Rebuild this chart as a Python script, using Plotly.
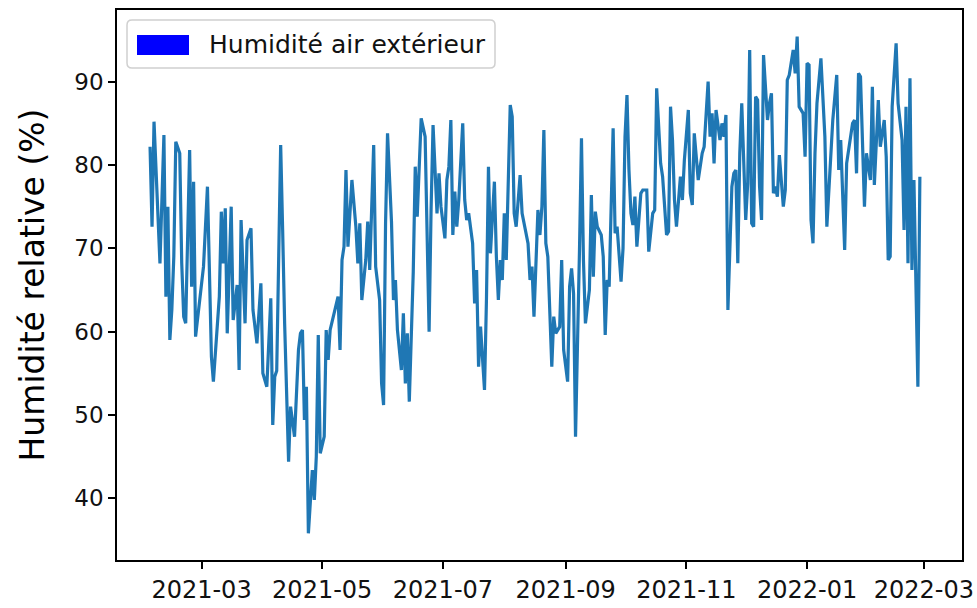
import plotly.graph_objects as go

# Outdoor relative humidity (local peaks / troughs)
dates = [
    "2021-02-03", "2021-02-04", "2021-02-05", "2021-02-08", "2021-02-10", "2021-02-11",
    "2021-02-12", "2021-02-13", "2021-02-14", "2021-02-15", "2021-02-16", "2021-02-18",
    "2021-02-19", "2021-02-20", "2021-02-21", "2021-02-23", "2021-02-24", "2021-02-25",
    "2021-02-26", "2021-02-28", "2021-03-02", "2021-03-04", "2021-03-06", "2021-03-07",
    "2021-03-09", "2021-03-10", "2021-03-11", "2021-03-12", "2021-03-13", "2021-03-14",
    "2021-03-16", "2021-03-17", "2021-03-19", "2021-03-20", "2021-03-21", "2021-03-23",
    "2021-03-24", "2021-03-26", "2021-03-27", "2021-03-29", "2021-03-31", "2021-04-01",
    "2021-04-03", "2021-04-05", "2021-04-06", "2021-04-07", "2021-04-08", "2021-04-10",
    "2021-04-11", "2021-04-12", "2021-04-14", "2021-04-15", "2021-04-17", "2021-04-18",
    "2021-04-19", "2021-04-20", "2021-04-21", "2021-04-22", "2021-04-23", "2021-04-24",
    "2021-04-26", "2021-04-27", "2021-04-28", "2021-04-29", "2021-04-30", "2021-05-02",
    "2021-05-03", "2021-05-04", "2021-05-05", "2021-05-09", "2021-05-10", "2021-05-11",
    "2021-05-12", "2021-05-13", "2021-05-14", "2021-05-16", "2021-05-18", "2021-05-19",
    "2021-05-20", "2021-05-21", "2021-05-23", "2021-05-24", "2021-05-25", "2021-05-27",
    "2021-05-28", "2021-05-30", "2021-05-31", "2021-06-01", "2021-06-02", "2021-06-03",
    "2021-06-05", "2021-06-06", "2021-06-07", "2021-06-08", "2021-06-10", "2021-06-11",
    "2021-06-12", "2021-06-13", "2021-06-14", "2021-06-16", "2021-06-17", "2021-06-18",
    "2021-06-19", "2021-06-20", "2021-06-22", "2021-06-23", "2021-06-24", "2021-06-25",
    "2021-06-26", "2021-06-28", "2021-06-29", "2021-06-30", "2021-07-02", "2021-07-03",
    "2021-07-04", "2021-07-05", "2021-07-06", "2021-07-07", "2021-07-08", "2021-07-09",
    "2021-07-11", "2021-07-12", "2021-07-13", "2021-07-14", "2021-07-16", "2021-07-17",
    "2021-07-18", "2021-07-19", "2021-07-20", "2021-07-22", "2021-07-23", "2021-07-24",
    "2021-07-25", "2021-07-27", "2021-07-28", "2021-07-29", "2021-07-30", "2021-07-31",
    "2021-08-01", "2021-08-02", "2021-08-04", "2021-08-05", "2021-08-06", "2021-08-07",
    "2021-08-09", "2021-08-10", "2021-08-12", "2021-08-13", "2021-08-14", "2021-08-15",
    "2021-08-16", "2021-08-17", "2021-08-18", "2021-08-19", "2021-08-20", "2021-08-21",
    "2021-08-22", "2021-08-23", "2021-08-25", "2021-08-26", "2021-08-27", "2021-08-29",
    "2021-08-30", "2021-08-31", "2021-09-02", "2021-09-03", "2021-09-04", "2021-09-05",
    "2021-09-06", "2021-09-08", "2021-09-09", "2021-09-10", "2021-09-11", "2021-09-13",
    "2021-09-14", "2021-09-15", "2021-09-16", "2021-09-17", "2021-09-19", "2021-09-20",
    "2021-09-21", "2021-09-22", "2021-09-23", "2021-09-25", "2021-09-26", "2021-09-27",
    "2021-09-29", "2021-09-30", "2021-10-01", "2021-10-02", "2021-10-03", "2021-10-04",
    "2021-10-05", "2021-10-06", "2021-10-07", "2021-10-09", "2021-10-10", "2021-10-12",
    "2021-10-13", "2021-10-15", "2021-10-16", "2021-10-17", "2021-10-19", "2021-10-20",
    "2021-10-22", "2021-10-23", "2021-10-24", "2021-10-25", "2021-10-26", "2021-10-27",
    "2021-10-29", "2021-10-30", "2021-10-31", "2021-11-02", "2021-11-03", "2021-11-04",
    "2021-11-05", "2021-11-07", "2021-11-08", "2021-11-09", "2021-11-10", "2021-11-12",
    "2021-11-13", "2021-11-14", "2021-11-15", "2021-11-16", "2021-11-18", "2021-11-19",
    "2021-11-20", "2021-11-21", "2021-11-22", "2021-11-24", "2021-11-25", "2021-11-26",
    "2021-11-27", "2021-11-28", "2021-11-29", "2021-12-01", "2021-12-02", "2021-12-03",
    "2021-12-04", "2021-12-05", "2021-12-06", "2021-12-07", "2021-12-08", "2021-12-09",
    "2021-12-10", "2021-12-12", "2021-12-13", "2021-12-14", "2021-12-15", "2021-12-16",
    "2021-12-17", "2021-12-18", "2021-12-20", "2021-12-21", "2021-12-22", "2021-12-23",
    "2021-12-25", "2021-12-26", "2021-12-27", "2021-12-28", "2021-12-30", "2021-12-31",
    "2022-01-01", "2022-01-02", "2022-01-03", "2022-01-04", "2022-01-05", "2022-01-06",
    "2022-01-08", "2022-01-10", "2022-01-11", "2022-01-13", "2022-01-14", "2022-01-16",
    "2022-01-17", "2022-01-18", "2022-01-20", "2022-01-21", "2022-01-22", "2022-01-24",
    "2022-01-25", "2022-01-26", "2022-01-27", "2022-01-28", "2022-01-30", "2022-01-31",
    "2022-02-02", "2022-02-03", "2022-02-04", "2022-02-05", "2022-02-06", "2022-02-07",
    "2022-02-09", "2022-02-10", "2022-02-11", "2022-02-12", "2022-02-13", "2022-02-15",
    "2022-02-16", "2022-02-18", "2022-02-19", "2022-02-20", "2022-02-21", "2022-02-22",
    "2022-02-23", "2022-02-24", "2022-02-26", "2022-02-27",
]

humidity = [
    82.2, 72.6, 85.2, 68.2, 83.6, 64.2,
    75.0, 59.0, 62.6, 69.0, 82.8, 81.4,
    68.2, 61.8, 61.0, 81.8, 65.4, 78.0,
    59.4, 63.8, 67.8, 77.4, 57.0, 54.0,
    61.4, 64.2, 74.4, 68.2, 74.8, 59.8,
    75.0, 61.4, 65.6, 55.4, 73.4, 61.0,
    71.0, 72.4, 62.6, 58.6, 65.8, 55.0,
    53.4, 64.0, 48.8, 54.6, 55.3, 82.4,
    72.2, 61.0, 44.4, 51.0, 47.4, 53.4,
    57.8, 59.8, 60.2, 49.4, 53.4, 35.8,
    43.4, 39.8, 45.0, 59.6, 45.4, 47.4,
    60.2, 56.6, 60.2, 64.2, 57.8, 68.6,
    70.2, 79.4, 70.2, 78.2, 72.6, 68.2,
    73.0, 63.8, 68.6, 73.2, 67.4, 82.4,
    67.8, 63.8, 53.8, 51.2, 73.0, 83.8,
    73.2, 63.8, 66.2, 60.2, 55.4, 62.2,
    53.8, 59.8, 51.6, 67.2, 79.8, 73.8,
    79.0, 85.6, 83.4, 73.4, 60.0, 74.6,
    84.8, 74.2, 79.0, 75.0, 71.2, 78.2,
    79.8, 85.4, 71.6, 76.8, 72.6, 75.8,
    85.0, 75.8, 73.4, 74.2, 70.6, 63.4,
    67.4, 55.8, 60.6, 53.0, 64.0, 79.8,
    69.4, 78.0, 69.0, 63.8, 68.6, 66.2,
    74.2, 68.6, 87.2, 85.8, 74.2, 72.6,
    78.8, 74.2, 72.0, 70.6, 66.2, 67.8,
    61.8, 69.8, 74.6, 71.6, 75.0, 84.2,
    70.6, 69.0, 55.8, 61.8, 59.8, 60.6,
    68.6, 57.8, 54.0, 65.4, 67.6, 64.6,
    47.4, 69.8, 83.2, 68.6, 61.0, 65.0,
    76.4, 66.6, 74.4, 72.6, 71.6, 69.0,
    59.6, 66.2, 65.4, 84.4, 71.8, 72.6,
    66.0, 70.0, 83.4, 88.4, 79.4, 74.2,
    72.8, 76.2, 70.2, 76.6, 77.0, 77.0,
    69.6, 74.2, 74.6, 89.2, 80.2, 78.6,
    71.6, 72.0, 87.0, 83.0, 75.8, 72.6,
    78.6, 75.8, 80.6, 86.6, 76.6, 75.2,
    83.8, 78.2, 80.2, 81.4, 82.2, 90.0,
    83.4, 86.2, 80.2, 86.6, 83.0, 85.0,
    83.4, 86.0, 62.6, 77.4, 79.0, 79.4,
    68.2, 81.4, 87.4, 73.4, 77.8, 93.8,
    73.0, 72.6, 88.2, 87.8, 77.4, 73.4,
    93.2, 85.4, 87.4, 88.6, 76.6, 77.4,
    76.2, 81.2, 75.0, 77.0, 90.2, 90.8,
    93.8, 91.0, 95.4, 87.0, 86.2, 81.0,
    92.2, 92.0, 73.4, 70.6, 81.4, 87.4,
    92.8, 83.4, 72.6, 80.6, 85.4, 90.8,
    79.4, 83.0, 69.8, 80.2, 81.8, 85.0,
    85.4, 79.0, 91.0, 90.6, 75.0, 81.4,
    78.2, 89.4, 77.6, 82.2, 87.8, 82.2,
    85.4, 81.0, 68.6, 69.0, 87.0, 94.6,
    87.4, 83.0, 72.2, 87.0, 68.2, 90.4,
    67.4, 78.2, 53.4, 78.6,
]

legend_label = "Humidité air extérieur"
y_title = "Humidité relative (%)"

FONT = "DejaVu Sans"
W, H = 977, 608
L, R, T, B = 117, 15, 10, 48
plot_w = W - L - R
plot_h = H - T - B


def px_x(x):
    return (x - L) / plot_w


def px_y(y):
    return (H - B - y) / plot_h


fig = go.Figure()
fig.add_trace(
    go.Scatter(
        x=dates,
        y=humidity,
        mode="lines",
        line=dict(color="#1f77b4", width=3.2),
        name=legend_label,
        showlegend=False,
    )
)

axis_style = dict(
    showline=True,
    linecolor="black",
    linewidth=1.5,
    mirror=True,
    ticks="outside",
    ticklen=7,
    tickwidth=1.5,
    tickcolor="black",
    showgrid=False,
    zeroline=False,
    automargin=False,
)

fig.update_xaxes(
    type="date",
    range=["2021-01-17 07:00", "2022-03-20 07:00"],
    tick0="2021-01-01",
    dtick="M2",
    tickformat="%Y-%m",
    tickfont=dict(family=FONT, size=24, color="#111"),
    **axis_style,
)
fig.update_yaxes(
    range=[32.6, 98.6],
    tick0=0,
    dtick=10,
    tickfont=dict(family=FONT, size=23, color="#111"),
    title=dict(text=y_title, font=dict(family=FONT, size=33, color="black"), standoff=20),
    **axis_style,
)

# matplotlib-style legend: rounded light-grey frame with a blue patch
x0, x1 = px_x(127), px_x(495)
y0, y1 = px_y(68), px_y(20)
rx, ry = 5 / plot_w, 5 / plot_h
frame = (
    f"M {x0 + rx},{y1} L {x1 - rx},{y1} Q {x1},{y1} {x1},{y1 - ry} "
    f"L {x1},{y0 + ry} Q {x1},{y0} {x1 - rx},{y0} "
    f"L {x0 + rx},{y0} Q {x0},{y0} {x0},{y0 + ry} "
    f"L {x0},{y1 - ry} Q {x0},{y1} {x0 + rx},{y1} Z"
)
fig.add_shape(
    type="path", path=frame, xref="paper", yref="paper",
    line=dict(color="#d0d0d0", width=1.5), fillcolor="rgba(255,255,255,0.8)",
)
fig.add_shape(
    type="rect", xref="paper", yref="paper",
    x0=px_x(137), x1=px_x(189), y0=px_y(55), y1=px_y(35),
    line=dict(width=0), fillcolor="#0000ff",
)
fig.add_annotation(
    x=px_x(207), y=px_y(45), xref="paper", yref="paper",
    text=legend_label, showarrow=False, xanchor="left", yanchor="middle",
    font=dict(family=FONT, size=25, color="#111"),
)

fig.update_layout(
    width=W,
    height=H,
    margin=dict(l=L, r=R, t=T, b=B),
    plot_bgcolor="white",
    paper_bgcolor="white",
    font=dict(family=FONT, color="black"),
)

# remove the default page margin so the figure sits at the window's top-left corner
fig.write_html(
    "out.html",
    config={"displayModeBar": False},
    post_script="document.body.style.margin = '0';",
)
